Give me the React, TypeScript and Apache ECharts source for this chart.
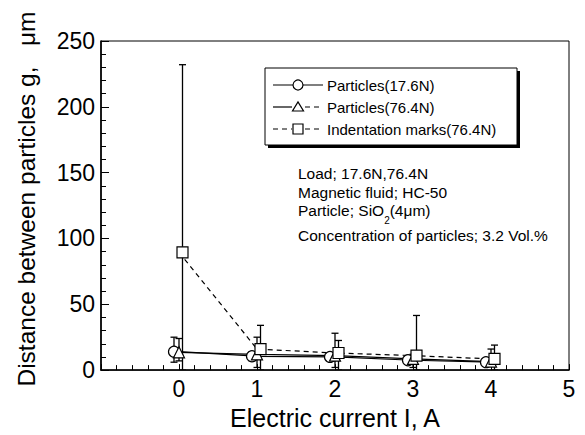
import React, { useEffect, useRef } from "react";
import * as echarts from "echarts";

const currents = [0, 1, 2, 3, 4];
const particles176 = [14, 10.5, 10, 7.5, 6];
const particles764 = [13.5, 12, 11, 8.5, 6.5];
const marks764 = [89.5, 16, 13, 11, 8.5];

const particles176Low = [6, 7, 7, 5, 4];
const particles176High = [25, 14, 13, 10, 8];
const particles764Low = [7, 2, 2, 2, 3];
const particles764High = [24, 25, 28, 12, 16];
const marks764Low = [0, 0, 0, 0, 0];
const marks764High = [232, 34, 22.5, 41.5, 19];

const legendNames = ["Particles(17.6N)", "Particles(76.4N)", "Indentation marks(76.4N)"];
const xTicks = [0, 1, 2, 3, 4, 5];

const FONT = "'Liberation Sans', Arial, Helvetica, sans-serif";

function errSeries(name: string, low: number[], high: number[], offset: number) {
  return {
    type: "custom",
    name,
    z: 1,
    clip: true,
    encode: { x: 0, y: [1, 2] },
    data: currents.map((c, i) => [c, low[i], high[i]]),
    renderItem: (params: any, api: any) => {
      const x = api.value(0);
      const pHi = api.coord([x, api.value(2)]);
      const pLo = api.coord([x, api.value(1)]);
      const cx = pHi[0] + offset;
      const hw = 3.5;
      const st = { stroke: "#000", lineWidth: 1.3 };
      return {
        type: "group",
        children: [
          { type: "line", shape: { x1: cx, y1: pHi[1], x2: cx, y2: pLo[1] }, style: st },
          { type: "line", shape: { x1: cx - hw, y1: pHi[1], x2: cx + hw, y2: pHi[1] }, style: st },
          { type: "line", shape: { x1: cx - hw, y1: pLo[1], x2: cx + hw, y2: pLo[1] }, style: st },
        ],
      };
    },
  };
}

export default function App() {
  const ref = useRef<HTMLDivElement>(null);
  useEffect(() => {
    if (!ref.current) return;
    const chart = echarts.init(ref.current, undefined, { renderer: "svg" });
    const lineStyleSolid = { color: "#000", width: 1.2, type: "solid" as const };
    const itemStyle = { color: "#fff", borderColor: "#000", borderWidth: 1.2 };
    const option: any = {
      animation: false,
      backgroundColor: "#fff",
      textStyle: { fontFamily: FONT },
      grid: { left: 101, right: 16, top: 41, bottom: 60, show: true, borderColor: "#000", borderWidth: 1, backgroundColor: "transparent" },
      xAxis: {
        type: "value",
        min: -1,
        max: 5,
        interval: 1,
        name: "Electric current I, A",
        nameLocation: "middle",
        nameGap: 30,
        nameTextStyle: { fontSize: 25, color: "#000", fontFamily: FONT },
        axisLine: { show: true, onZero: false, lineStyle: { color: "#000", width: 1.6 } },
        axisTick: { show: true, inside: true, length: 6, lineStyle: { color: "#000", width: 1 } },
        minorTick: { show: true, splitNumber: 5, length: 5, lineStyle: { color: "#000", width: 1 } },
        axisLabel: {
          color: "#000",
          fontSize: 23,
          margin: 7,
          fontFamily: FONT,
          formatter: (v: number) => (xTicks.includes(v) ? String(v) : ""),
        },
        splitLine: { show: false },
      },
      yAxis: {
        type: "value",
        min: 0,
        max: 250,
        interval: 50,
        name: "Distance between particles g,   \u03bcm",
        nameLocation: "middle",
        nameGap: 62,
        nameTextStyle: { fontSize: 24.5, color: "#000", fontFamily: FONT, padding: [0, 0, 0, 13] },
        axisLine: { show: true, onZero: false, lineStyle: { color: "#000", width: 1.6 } },
        axisTick: { show: true, inside: true, length: 8, lineStyle: { color: "#000", width: 1 } },
        minorTick: { show: true, splitNumber: 5, length: 5, lineStyle: { color: "#000", width: 1 } },
        axisLabel: { color: "#000", fontSize: 23, margin: 6, fontFamily: FONT },
        splitLine: { show: false },
      },
      series: [
        errSeries("err176", particles176Low, particles176High, -5),
        errSeries("err764", particles764Low, particles764High, 0),
        errSeries("errMarks", marks764Low, marks764High, 3.5),
        {
          type: "line",
          name: legendNames[0],
          z: 3,
          data: currents.map((c, i) => [c, particles176[i]]),
          symbol: "circle",
          symbolSize: 11,
          symbolOffset: [-5, 0],
          showAllSymbol: true,
          lineStyle: lineStyleSolid,
          itemStyle,
        },
        {
          type: "line",
          name: legendNames[1],
          z: 3,
          data: currents.map((c, i) => [c, particles764[i]]),
          symbol: "triangle",
          symbolSize: 11,
          lineStyle: lineStyleSolid,
          itemStyle,
        },
        {
          type: "line",
          name: legendNames[2],
          z: 3,
          data: currents.map((c, i) => [c, marks764[i]]),
          symbol: "rect",
          symbolSize: 11,
          symbolOffset: [3.5, 0],
          lineStyle: { color: "#000", width: 1.2, type: [5, 4] },
          itemStyle,
        },
      ],
      graphic: [
        { type: "rect", z: 10, shape: { x: 268, y: 71, width: 252, height: 77 }, style: { fill: "#000" } },
        { type: "rect", z: 11, shape: { x: 265, y: 68, width: 252, height: 77 }, style: { fill: "#fff", stroke: "#000", lineWidth: 1 } },
        { type: "line", z: 12, shape: { x1: 273, y1: 85, x2: 323, y2: 85 }, style: { stroke: "#000", lineWidth: 1.2 } },
        { type: "circle", z: 13, shape: { cx: 298, cy: 85, r: 5 }, style: { fill: "#fff", stroke: "#000", lineWidth: 1.2 } },
        { type: "line", z: 12, shape: { x1: 273, y1: 107, x2: 292, y2: 107 }, style: { stroke: "#000", lineWidth: 1.2 } },
        { type: "line", z: 12, shape: { x1: 305, y1: 107, x2: 323, y2: 107 }, style: { stroke: "#000", lineWidth: 1.2, lineDash: [5, 4] } },
        { type: "polygon", z: 13, shape: { points: [[292.5, 111], [303.5, 111], [298, 102]] }, style: { fill: "#fff", stroke: "#000", lineWidth: 1.2 } },
        { type: "line", z: 12, shape: { x1: 273, y1: 129, x2: 292, y2: 129 }, style: { stroke: "#000", lineWidth: 1.2, lineDash: [5, 4] } },
        { type: "line", z: 12, shape: { x1: 305, y1: 129, x2: 323, y2: 129 }, style: { stroke: "#000", lineWidth: 1.2, lineDash: [5, 4] } },
        { type: "rect", z: 13, shape: { x: 293, y: 124, width: 10, height: 10 }, style: { fill: "#fff", stroke: "#000", lineWidth: 1.2 } },
        ...legendNames.map((n, i) => ({
          type: "text",
          z: 13,
          x: 327,
          y: 85 + i * 22,
          style: { text: n, fontSize: 15, fontFamily: FONT, fill: "#000", verticalAlign: "middle", align: "left" },
        })),
        { type: "text", z: 13, x: 298, y: 173, style: { text: "Load; 17.6N,76.4N", fontSize: 15.5, fontFamily: FONT, fill: "#000", verticalAlign: "middle" } },
        { type: "text", z: 13, x: 298, y: 192, style: { text: "Magnetic fluid; HC-50", fontSize: 15.5, fontFamily: FONT, fill: "#000", verticalAlign: "middle" } },
        {
          type: "text",
          z: 13,
          x: 298,
          y: 202,
          style: {
            text: "{a|Particle; SiO}{s|2}{a|(4\u03bcm)}",
            fontFamily: FONT,
            fill: "#000",
            verticalAlign: "top",
            rich: {
              a: { fontSize: 15.5, fontFamily: FONT, fill: "#000", lineHeight: 17, verticalAlign: "top" },
              s: { fontSize: 10, fontFamily: FONT, fill: "#000", lineHeight: 17, verticalAlign: "bottom", padding: [0, 0, -6, 0] },
            },
          },
        },
        { type: "text", z: 13, x: 298, y: 235, style: { text: "Concentration of particles; 3.2 Vol.%", fontSize: 15.5, fontFamily: FONT, fill: "#000", verticalAlign: "middle" } },
      ],
    };
    chart.setOption(option);
    return () => chart.dispose();
  }, []);
  return <div ref={ref} style={{ width: 585, height: 435, position: "absolute", left: 0, top: 0 }} />;
}
